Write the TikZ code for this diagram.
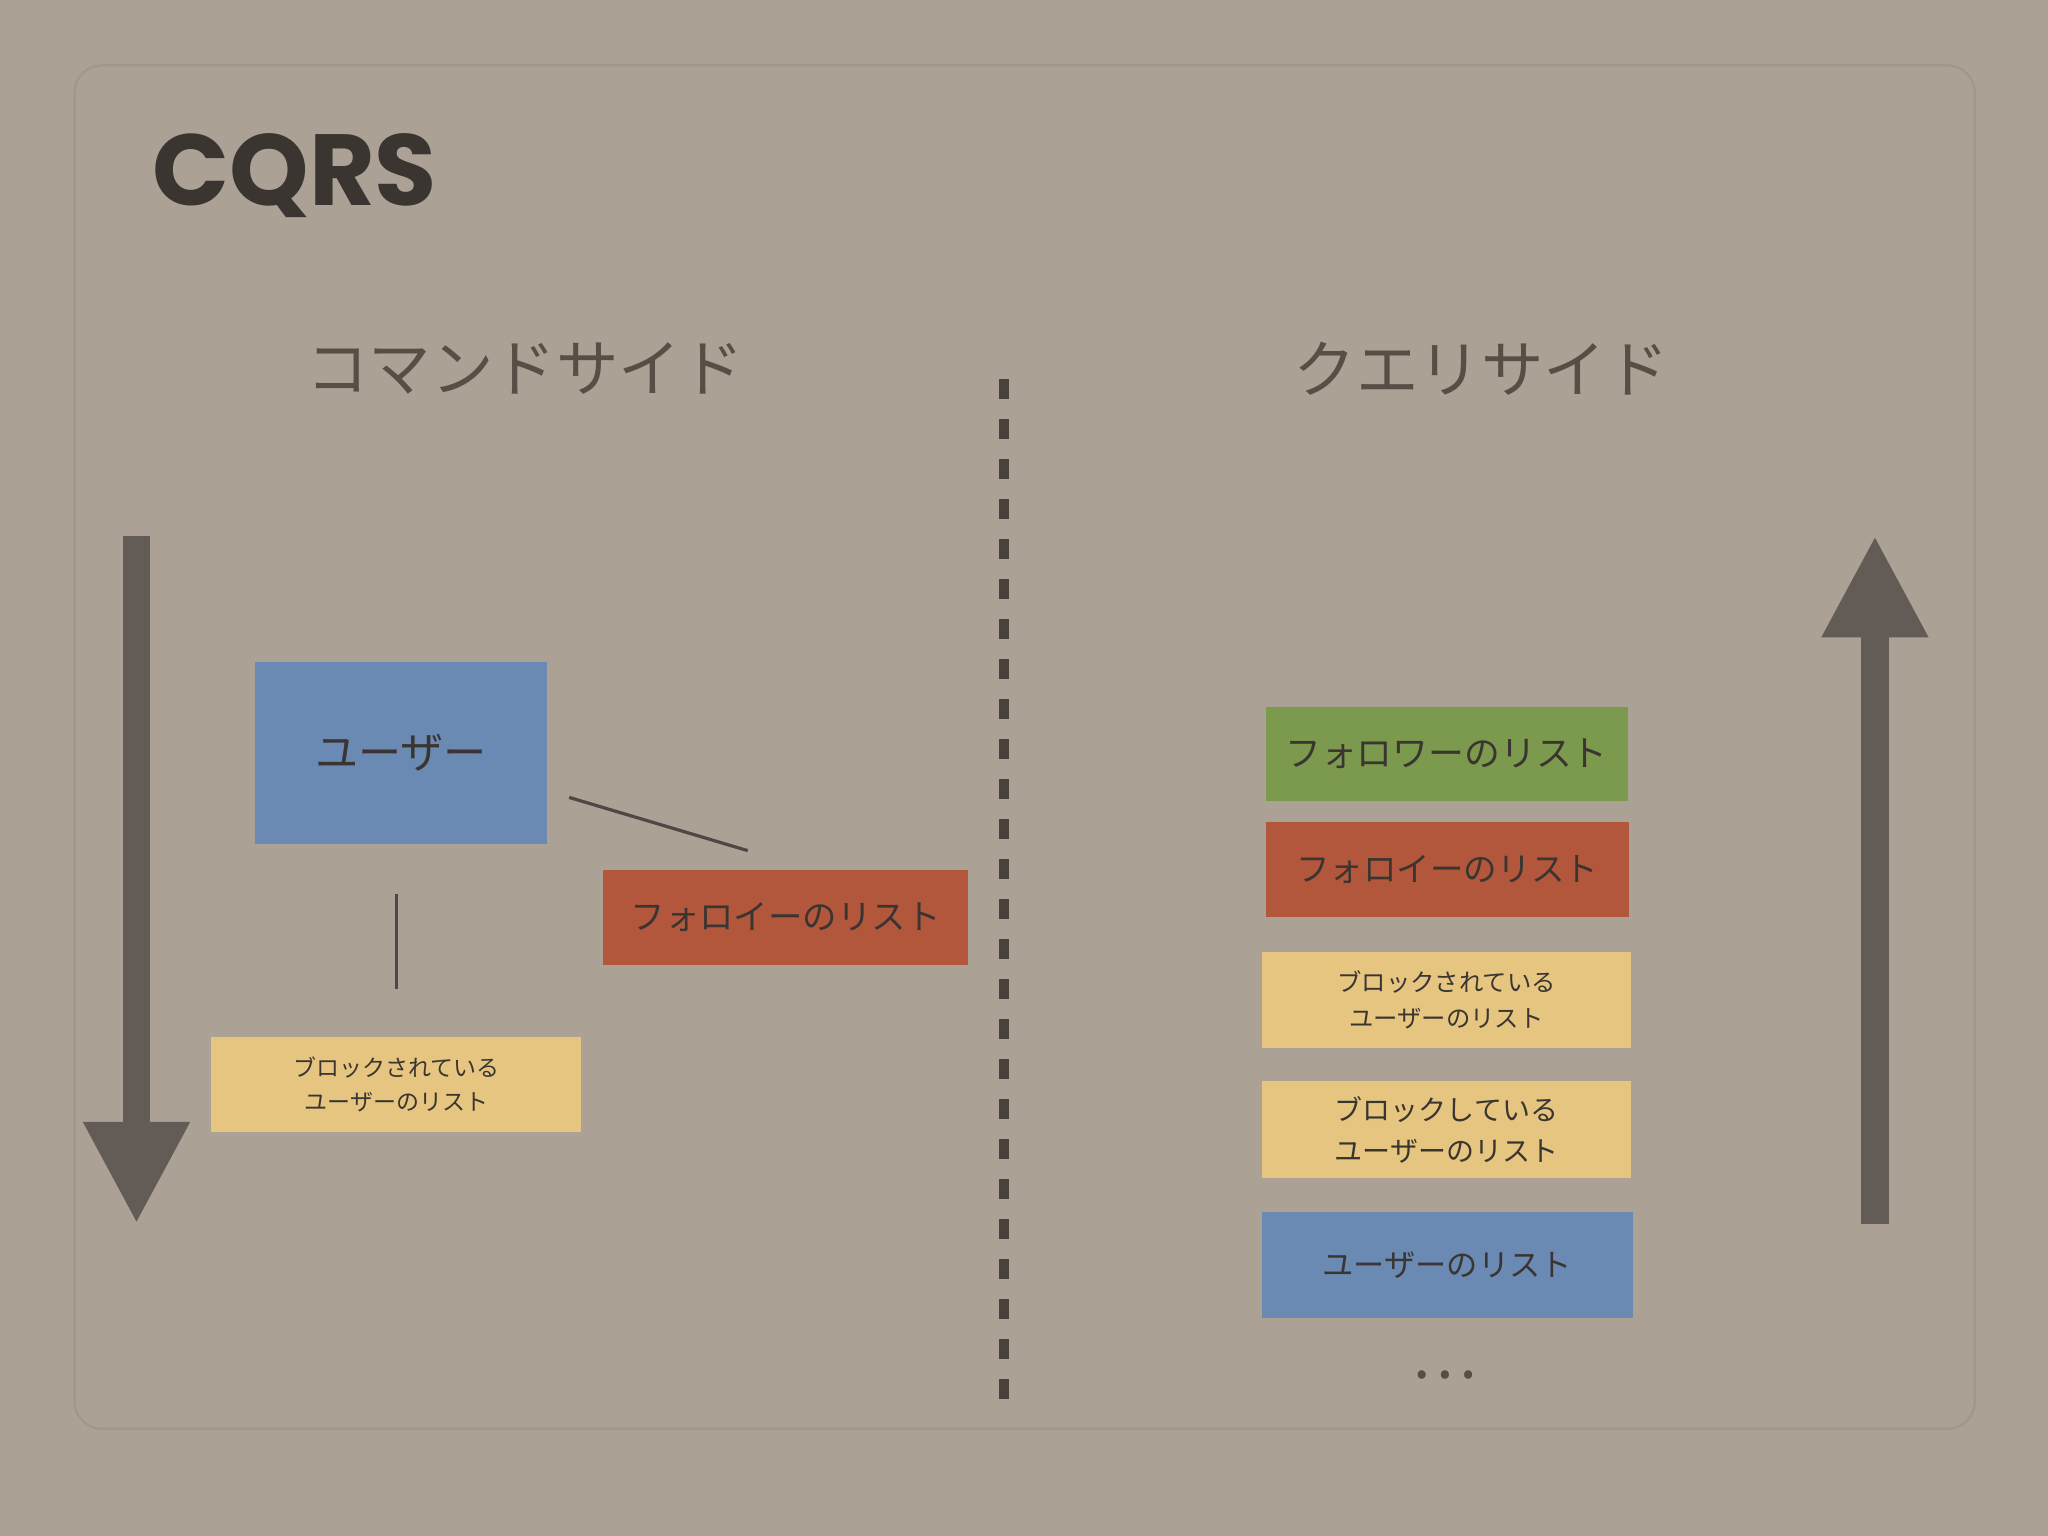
\documentclass[tikz,border=0pt]{standalone}
\usepackage{fontspec}
\newfontfamily\jpfont{Noto Sans CJK JP}
\newfontfamily\titlefont{Poppins}
\usetikzlibrary{arrows.meta, positioning}

\definecolor{paper}{HTML}{ABA195}
\definecolor{framecol}{HTML}{A1978A}
\definecolor{ink}{HTML}{3A3531}
\definecolor{headink}{HTML}{594E46}
\definecolor{arrowcol}{HTML}{635B56}
\definecolor{dashcol}{HTML}{48413C}
\definecolor{userblue}{HTML}{6A8AB4}
\definecolor{listred}{HTML}{B3573C}
\definecolor{listgreen}{HTML}{7C9A4E}
\definecolor{listyellow}{HTML}{E5C57F}

\begin{document}
\begin{tikzpicture}[x=0.01cm, y=-0.01cm,
    card/.style={rectangle, inner sep=0pt, align=center, text=ink},
    heading/.style={text=headink, font=\jpfont\fontsize{13.6}{16}\selectfont},
    link/.style={draw=ink!90, line width=0.7pt},
    flow/.style={draw=arrowcol, line width=0.21cm, -{Triangle[width=0.76cm, length=0.78cm]}}]
    % background and frame
    \fill[paper] (0,0) rectangle (1568,1176);
    \useasboundingbox (0,0) rectangle (1568,1176);
    \draw[framecol, line width=0.5pt, rounded corners=6pt] (57,50) rectangle (1512,1094);

    % title
    \node[anchor=base west, inner sep=0pt, text=ink, font=\titlefont\bfseries\fontsize{22}{26}\selectfont] (title) at (116,157) {CQRS};

    % side headings
    \node[heading] (cmdside) at (402,282) {コマンドサイド};
    \node[heading] (qryside) at (1134,282) {クエリサイド};

    % divider
    \coordinate (divtop) at (769,290);
    \coordinate (divbot) at (769,1072);
    \draw[dashcol, line width=0.077cm, dash pattern=on 0.153cm off 0.153cm] (divtop) -- (divbot);

    % command side boxes
    \node[card, fill=userblue, minimum width=2.24cm, minimum height=1.39cm, font=\jpfont\fontsize{9.4}{11}\selectfont] (user) at (307,576.5) {ユーザー};
    \node[card, fill=listred, minimum width=2.79cm, minimum height=0.73cm, font=\jpfont\fontsize{7.5}{9}\selectfont] (followee) at (601.5,702.5) {フォロイーのリスト};
    \node[card, fill=listyellow, minimum width=2.83cm, minimum height=0.73cm, font=\jpfont\fontsize{5}{7.4}\selectfont] (blocked) at (303.5,830.5) {ブロックされている\\ユーザーのリスト};

    % links
    \draw[link] ([xshift=0.16cm, yshift=-0.34cm]user.east) -- ([xshift=-0.29cm, yshift=0.14cm]followee.north);
    \draw[link, shorten <=0.38cm, shorten >=0.36cm] (user.south -| blocked.north) -- (blocked.north);

    % query side boxes
    \node[card, fill=listgreen, minimum width=2.77cm, minimum height=0.72cm, font=\jpfont\fontsize{7.8}{9}\selectfont] (followers) at (1107.5,577) {フォロワーのリスト};
    \node[card, fill=listred, minimum width=2.78cm, minimum height=0.73cm, font=\jpfont\fontsize{7.3}{9}\selectfont] (followees) at (1108,665.5) {フォロイーのリスト};
    \node[card, fill=listyellow, minimum width=2.83cm, minimum height=0.73cm, font=\jpfont\fontsize{5.3}{8}\selectfont] (blockedby) at (1107.5,765.5) {ブロックされている\\ユーザーのリスト};
    \node[card, fill=listyellow, minimum width=2.83cm, minimum height=0.74cm, font=\jpfont\fontsize{6.1}{9.1}\selectfont] (blocking) at (1107.5,865) {ブロックしている\\ユーザーのリスト};
    \node[card, fill=userblue, minimum width=2.84cm, minimum height=0.81cm, font=\jpfont\fontsize{6.8}{8}\selectfont] (users) at (1108,968.5) {ユーザーのリスト};
    \node[inner sep=0pt, text=headink, font=\jpfont\fontsize{13.5}{16}\selectfont] (more) at (1106,1053) {…};

    % direction arrows
    \coordinate (cmdtop) at (104.5,410);
    \coordinate (cmdbot) at (104.5,937);
    \coordinate (qrybot) at (1435.5,937);
    \coordinate (qrytop) at (1435.5,410);
    \draw[flow] (cmdtop) -- (cmdbot);
    \draw[flow] (qrybot) -- (qrytop);
\end{tikzpicture}
\end{document}
